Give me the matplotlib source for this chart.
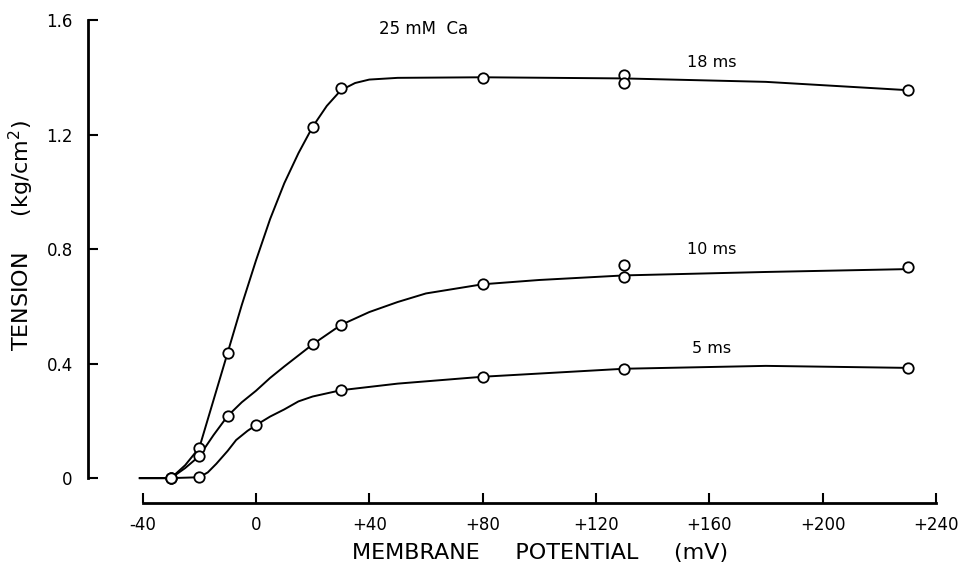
import numpy as np
import matplotlib
matplotlib.use("Agg")
import matplotlib.pyplot as plt

# measured points (membrane potential mV, tension kg/cm2)
x18 = [-30, -20, -10, 20, 30, 80, 130, 130, 230]
y18 = [0.0, 0.106, 0.438, 1.227, 1.362, 1.396, 1.407, 1.381, 1.355]
x10 = [-30, -20, -10, 20, 30, 80, 130, 130, 230]
y10 = [0.0, 0.077, 0.217, 0.467, 0.535, 0.677, 0.746, 0.701, 0.738]
x5 = [-30, -20, 0, 30, 80, 130, 230]
y5 = [0.0, 0.005, 0.185, 0.307, 0.354, 0.382, 0.385]

# hand drawn fitted curves
cx18 = [-41, -30, -25, -20, -15, -10, -5, 0, 5, 10, 15, 20, 25, 30, 35, 40, 50, 80, 130, 180, 230]
cy18 = [0, 0, 0.045, 0.106, 0.272, 0.438, 0.605, 0.76, 0.905, 1.03, 1.135, 1.227, 1.30, 1.355, 1.38, 1.392, 1.398, 1.400, 1.396, 1.384, 1.355]
cx10 = [-41, -30, -25, -20, -15, -10, -5, 0, 5, 10, 20, 30, 40, 50, 60, 80, 100, 130, 180, 230]
cy10 = [0, 0, 0.035, 0.077, 0.15, 0.217, 0.265, 0.305, 0.35, 0.39, 0.467, 0.535, 0.58, 0.615, 0.645, 0.677, 0.692, 0.708, 0.72, 0.73]
cx5 = [-41, -30, -20, -17, -14, -10, -7, -3, 0, 5, 10, 15, 20, 30, 50, 80, 130, 180, 230]
cy5 = [0, 0, 0.003, 0.02, 0.05, 0.095, 0.133, 0.165, 0.185, 0.215, 0.24, 0.268, 0.285, 0.307, 0.33, 0.354, 0.382, 0.392, 0.385]

xticks = [-40, 0, 40, 80, 120, 160, 200, 240]
xlabels = ["-40", "0", "+40", "+80", "+120", "+160", "+200", "+240"]
yticks = [0, 0.4, 0.8, 1.2, 1.6]
ylabels = ["0", "0.4", "0.8", "1.2", "1.6"]

plt.rcParams['font.family'] = ['DejaVu Sans']
fig = plt.figure(figsize=(9.69, 5.72), dpi=100)
ax = fig.add_axes([0.0908, 0.1206, 0.8896, 0.8444])

for cx, cy in [(cx18, cy18), (cx10, cy10), (cx5, cy5)]:
    ax.plot(cx, cy, color='black', lw=1.4, zorder=2, solid_joinstyle='round')
for px, py in [(x18, y18), (x10, y10), (x5, y5)]:
    ax.plot(px, py, 'o', ms=7.5, mfc='white', mec='black', mew=1.3, zorder=3, clip_on=False)

ax.set_xlim(-59.3, 245)
ax.set_ylim(-0.087, 1.6)
for s in ['top', 'right']:
    ax.spines[s].set_visible(False)
ax.spines['left'].set_bounds(0, 1.6)
ax.spines['bottom'].set_bounds(-40, 240)
ax.spines['left'].set_linewidth(2)
ax.spines['bottom'].set_linewidth(2)

ax.set_xticks(xticks)
ax.set_xticklabels(xlabels)
ax.set_yticks(yticks)
ax.set_yticklabels(ylabels)
ax.tick_params(direction='in', length=7, width=1.5, labelsize=12, pad=9)
ax.tick_params(axis='y', pad=11)

ax.set_xlabel("MEMBRANE     POTENTIAL     (mV)", fontsize=16, labelpad=7)
ax.set_ylabel("TENSION     (kg/cm$^2$)", fontsize=16, labelpad=7)
ax.xaxis.label.set_x(0.524)
ax.yaxis.label.set_y(0.553)

ax.text(59, 1.569, "25 mM  Ca", fontsize=12, ha='center', va='center')
ax.text(161, 1.453, "18 ms", fontsize=11.5, ha='center', va='center')
ax.text(161, 0.797, "10 ms", fontsize=11.5, ha='center', va='center')
ax.text(161, 0.454, "5 ms", fontsize=11.5, ha='center', va='center')

fig.savefig("out.png", dpi=100)
